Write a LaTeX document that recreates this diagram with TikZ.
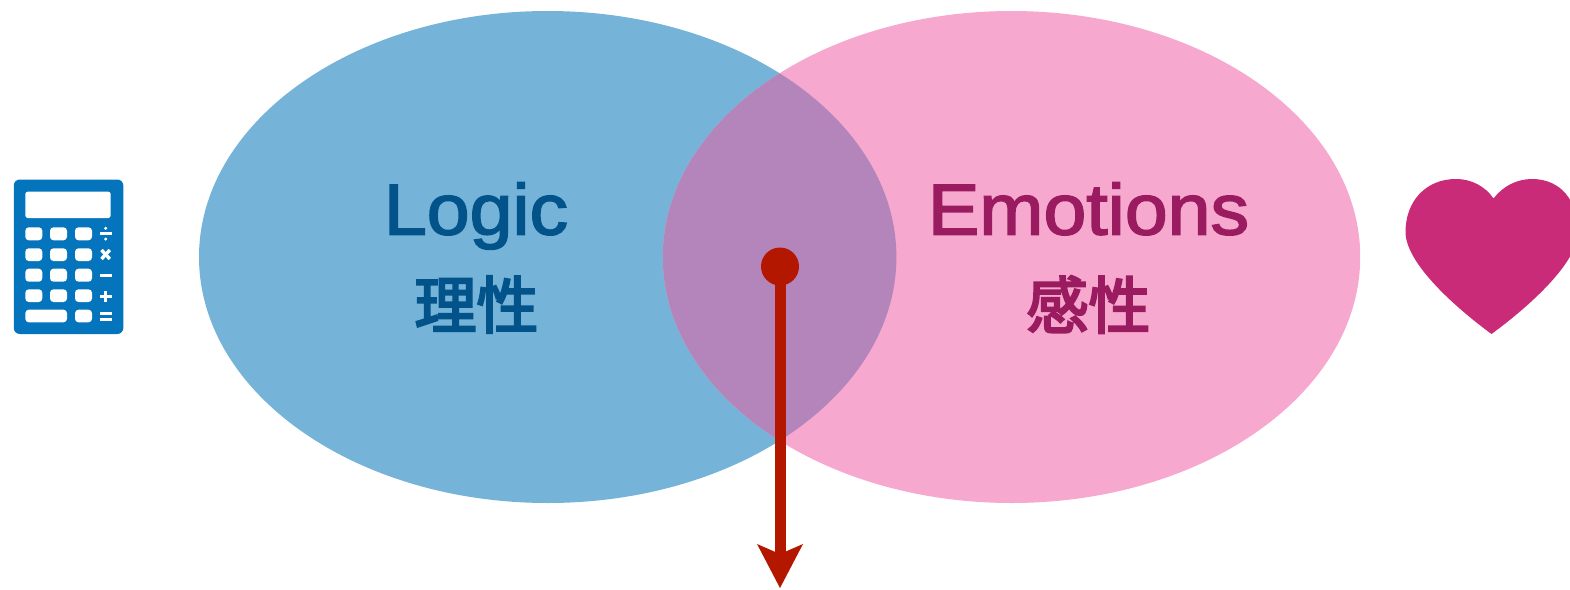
\documentclass[tikz,border=0pt]{standalone}
\usepackage{fontspec}
\setmainfont[FakeBold=2.2,FakeStretch=1.07]{Liberation Sans}
\newfontfamily\cjk[FakeBold=3.6]{Noto Sans CJK JP}
\usetikzlibrary{arrows.meta}
\definecolor{blueE}{HTML}{75B3D8}
\definecolor{pinkE}{HTML}{F6A8CF}
\definecolor{overlapE}{HTML}{B485BA}
\definecolor{logicC}{HTML}{015389}
\definecolor{emoC}{HTML}{9A1B60}
\definecolor{calcC}{HTML}{0475BC}
\definecolor{heartC}{HTML}{CA2B78}
\definecolor{arrowC}{HTML}{B41700}
\tikzset{
  lat/.style={inner sep=0pt,anchor=base,font=\fontsize{72}{72}\selectfont},
  kan/.style={inner sep=0pt,anchor=center,font=\cjk\fontsize{62}{62}\selectfont},
  calckey/.style={fill=white,rounded corners=3.5pt},
  calcsym/.style={draw=white,line width=2.6pt},
}
\begin{document}
\begin{tikzpicture}[x=1pt,y=-1pt]
\useasboundingbox (0,0) rectangle (1570,589);
% Venn
\fill[blueE] (547.7,257) ellipse [x radius=348.7,y radius=246];
\fill[pinkE] (1011.5,257) ellipse [x radius=348.7,y radius=246];
\begin{scope}
  \clip (547.7,257) ellipse [x radius=348.7,y radius=246];
  \fill[overlapE] (1011.5,257) ellipse [x radius=348.7,y radius=246];
\end{scope}
% Texts
\node[lat,text=logicC] (logic) at (476,234.5) {Logic};
\node[kan,text=logicC] (lixing) at (476.5,304.5) {理性};
\node[lat,text=emoC] (emotions) at (1088.5,234.5) {Emotions};
\node[kan,text=emoC] (ganxing) at (1088.5,304.5) {感性};
% Arrow
\node[circle,fill=arrowC,inner sep=0pt,minimum size=38pt] (dot) at (780,266.5) {};
\coordinate (tip) at (780,588);
\draw[arrowC,line width=11pt,-{Stealth[length=44pt,width=46pt,inset=10pt,line width=0pt]}] (dot.center) -- (tip);
% Calculator
\fill[calcC,rounded corners=6pt] (13.8,179.5) rectangle (123.3,334);
\fill[white,rounded corners=2.5pt] (25.3,191.7) rectangle (110.7,218);
\foreach \ya/\yb in {227.3/240.3,248.3/261,268.7/281.7,289.3/302}{
  \foreach \xa/\xb in {25.3/42.3,50/67,75/92}{
    \fill[calckey] (\xa,\ya) rectangle (\xb,\yb);
  }
}
\fill[calckey] (25.3,309.7) rectangle (67,322.3);
\fill[calckey] (75,309.7) rectangle (92,322.3);
% divide
\draw[calcsym] (100,233.6) -- (111.5,233.6);
\fill[white] (105.7,228.3) circle (1.7);
\fill[white] (105.7,239) circle (1.7);
% times
\draw[calcsym,line width=3.4pt] (101.5,250) -- (109.8,259);
\draw[calcsym,line width=3.4pt] (109.8,250) -- (101.5,259);
% minus
\draw[calcsym,line width=3.4pt] (100,275.5) -- (111.5,275.5);
% plus
\draw[calcsym,line width=3.4pt] (100,296.3) -- (111.5,296.3);
\draw[calcsym,line width=3.4pt] (105.7,290.5) -- (105.7,302);
% equals
\draw[calcsym,line width=3pt] (100,313) -- (111.5,313);
\draw[calcsym,line width=3pt] (100,319) -- (111.5,319);
% Heart
\fill[heartC] (1493.5,198.5)
  .. controls (1485,186) and (1471,179) .. (1456,179)
  .. controls (1426,179) and (1405.5,201) .. (1405.5,232)
  .. controls (1405.5,262) and (1452,305) .. (1491.5,334)
  .. controls (1531,305) and (1578,262) .. (1578,232)
  .. controls (1578,201) and (1561,179) .. (1532,179)
  .. controls (1517,179) and (1503,186) .. (1493.5,198.5) -- cycle;
\end{tikzpicture}
\end{document}
